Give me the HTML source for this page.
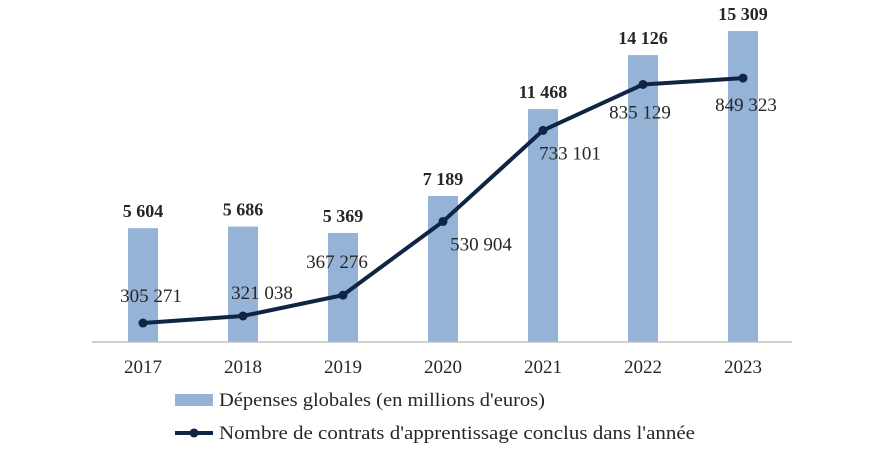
<!DOCTYPE html>
<html><head><meta charset="utf-8"><style>
body{margin:0;background:#fff;width:875px;height:452px;overflow:hidden}
text{font-family:"Liberation Serif",serif;fill:#262626}
</style></head><body>
<svg width="875" height="452" xmlns="http://www.w3.org/2000/svg">
<g id="g"></g>
<line x1="92" y1="342" x2="792" y2="342" stroke="#bfbfbf" stroke-width="1.5"/>
<g>
<rect x="175" y="394" width="38" height="12" fill="#95b3d7"/>
<text x="219" y="406" font-size="19" fill="#404040" textLength="326" lengthAdjust="spacingAndGlyphs">Dépenses globales (en millions d'euros)</text>
<line x1="175" y1="433" x2="213" y2="433" stroke="#0f2543" stroke-width="4"/>
<circle cx="194" cy="433" r="4.5" fill="#0f2543"/>
<text x="219" y="439" font-size="19" fill="#404040" textLength="476" lengthAdjust="spacingAndGlyphs">Nombre de contrats d'apprentissage conclus dans l'année</text>
</g>
</svg>
<script>
const years=["2017","2018","2019","2020","2021","2022","2023"];
const spend=[5604,5686,5369,7189,11468,14126,15309];
const spendLabels=["5 604","5 686","5 369","7 189","11 468","14 126","15 309"];
const contracts=[305271,321038,367276,530904,733101,835129,849323];
const contractLabels=["305 271","321 038","367 276","530 904","733 101","835 129","849 323"];
const ns="http://www.w3.org/2000/svg",g=document.getElementById('g');
const base=342;
const xc=i=>143+i*100;
const yb=v=>base-v*0.02031;
const yl=v=>base-(v-263200)*0.0004503;
const lblOff=[[8,-21],[19,-17],[-6,-27],[38,29],[27,29],[-3,34],[3,33]];
function mk(t,a,txt){const e=document.createElementNS(ns,t);for(const k in a)e.setAttribute(k,a[k]);if(txt)e.textContent=txt;g.appendChild(e);return e;}
spend.forEach((v,i)=>{
 const r=mk('rect',{x:xc(i)-15,y:yb(v),width:30,height:base-yb(v),fill:'#95b3d7'});
 
 
 const t=mk('text',{x:xc(i),y:yb(v)-11,'text-anchor':'middle','font-size':18,'font-weight':'bold',fill:'#404040'},spendLabels[i]);
 
 
 const xt=mk('text',{x:xc(i),y:373,'text-anchor':'middle','font-size':19,fill:'#404040'},years[i]);
 
 
});
let d=contracts.map((v,i)=>(i?'L':'M')+xc(i)+' '+yl(v)).join(' ');
const p=mk('path',{d:d,fill:'none',stroke:'#0f2543','stroke-width':4,'stroke-linejoin':'round'});


contracts.forEach((v,i)=>{
 const c=mk('circle',{cx:xc(i),cy:yl(v),r:4.5,fill:'#0f2543'});
 
 
 const t=mk('text',{x:xc(i)+lblOff[i][0],y:yl(v)+lblOff[i][1],'text-anchor':'middle','font-size':19,fill:'#000'},contractLabels[i]);
 
 
});
</script>
</body></html>
